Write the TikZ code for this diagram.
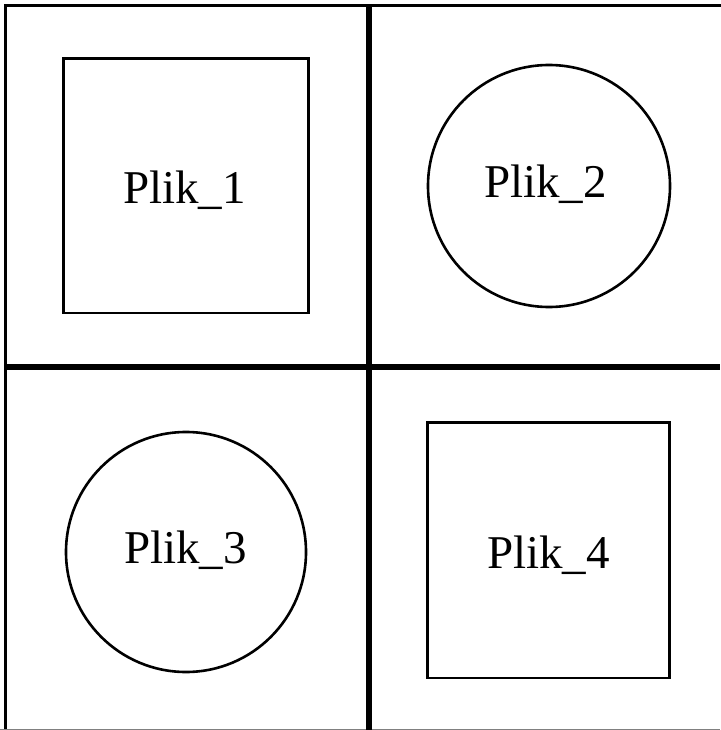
\documentclass[tikz,border=0pt]{standalone}
\usepackage{fontspec}
\setmainfont{Liberation Serif}
\begin{document}
\begin{tikzpicture}[x=1pt,y=-1pt,
  frame/.style={line width=3.2pt,line cap=rect},
  divider/.style={line width=6pt},
  shapeline/.style={line width=2.6pt},
  lbl/.style={font=\fontsize{47}{50}\selectfont,inner sep=0pt,anchor=base west}]
\useasboundingbox (0,0) rectangle (720,730);
\coordinate (tl) at (5.5,5.5);
\coordinate (tr) at (720,5.5);
\coordinate (bl) at (5.5,730);
\draw[frame] (tr) -- (tl) -- (bl);
\draw[gray,line width=1pt] (0,729.5) -- (720,729.5);
\coordinate (vt) at (368.5,5);
\coordinate (vb) at (368.5,730);
\coordinate (hl) at (5,367);
\coordinate (hr) at (720,367);
\draw[divider] (vt) -- (vb);
\draw[divider] (hl) -- (hr);
\draw[shapeline] (63.5,58.5) rectangle (308.5,313);
\draw[shapeline] (549,186) circle (121);
\draw[shapeline] (186,552) circle (120);
\draw[shapeline] (427.5,422.5) rectangle (669.5,678);
\node[lbl] (p1) at (123,203) {Plik\_1};
\node[lbl] (p2) at (484,197) {Plik\_2};
\node[lbl] (p3) at (124,563) {Plik\_3};
\node[lbl] (p4) at (487,568) {Plik\_4};
\end{tikzpicture}
\end{document}
